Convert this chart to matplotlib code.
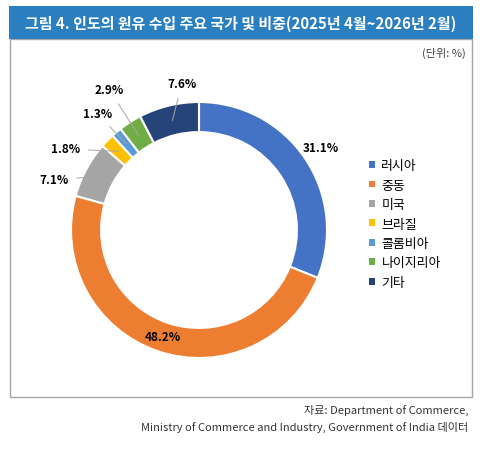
import matplotlib.pyplot as plt
from matplotlib.patches import Rectangle, Patch
import numpy as np

plt.rcParams['font.family'] = ['Noto Sans CJK KR', 'DejaVu Sans']

# data
countries = ['러시아', '중동', '미국', '브라질', '콜롬비아', '나이지리아', '기타']
shares = [31.1, 48.2, 7.1, 1.8, 1.3, 2.9, 7.6]
colors = ['#4472C4', '#ED7D31', '#A5A5A5', '#FFC000', '#5B9BD5', '#70AD47', '#264478']

# label placement (angle offset in degrees, radius), leader line or not
label_pos = [(0, 1.15, False), (0, 0.88, False), (9, 1.20, True), (13, 1.22, True),
             (1, 1.21, True), (0, 1.30, True), (-7, 1.15, True)]

W, H = 484, 452
fig = plt.figure(figsize=(W / 100, H / 100), dpi=100)

# frame + title bar
fig.patches.append(Rectangle((10 / W, (H - 398) / H), 462 / W, 358 / H,
                             transform=fig.transFigure, fill=False,
                             edgecolor='#a6a6a6', lw=1))
fig.patches.append(Rectangle((9 / W, (H - 40) / H), 464 / W, 33 / H,
                             transform=fig.transFigure, facecolor='#2a7fc1',
                             edgecolor='none'))
fig.text(241 / W, (H - 24) / H,
         '그림 4. 인도의 원유 수입 주요 국가 및 비중(2025년 4월~2026년 2월)',
         color='white', fontsize=10.8, fontweight='bold', ha='center', va='center')
fig.text(466 / W, (H - 53) / H, '(단위: %)', fontsize=8, color='#404040',
         ha='right', va='center')
fig.text(468 / W, (H - 410) / H, '자료: Department of Commerce,',
         fontsize=8, color='#333333', ha='right', va='center')
fig.text(468 / W, (H - 427) / H,
         'Ministry of Commerce and Industry, Government of India 데이터',
         fontsize=8, color='#333333', ha='right', va='center')

# donut
cx, cy, r = 199, 231, 128
ax = fig.add_axes([(cx - r) / W, (H - cy - r) / H, 2 * r / W, 2 * r / H])
wedges, _ = ax.pie(shares, colors=colors, startangle=90, counterclock=False,
                   radius=1, wedgeprops=dict(width=0.235, edgecolor='white', linewidth=1.5))
ax.set_xlim(-1, 1)
ax.set_ylim(-1, 1)
ax.set_aspect('equal')
ax.axis('off')

for w, v, (da, rr, line) in zip(wedges, shares, label_pos):
    mid = (w.theta1 + w.theta2) / 2
    a = np.deg2rad(mid + da)
    tx, ty = rr * np.cos(a), rr * np.sin(a)
    am = np.deg2rad(mid)
    if line:
        ax.annotate(f'{v}%', xy=(0.88 * np.cos(am), 0.88 * np.sin(am)), xytext=(tx, ty),
                    fontsize=8.5, fontweight='bold', ha='center', va='center',
                    annotation_clip=False,
                    arrowprops=dict(arrowstyle='-', color='#a6a6a6', lw=0.7,
                                    shrinkA=4, shrinkB=0))
    else:
        ax.text(tx, ty, f'{v}%', fontsize=8.5, fontweight='bold',
                ha='center', va='center')

handles = [Patch(facecolor=c, edgecolor='none') for c in colors]
fig.legend(handles, countries, loc='upper left',
           bbox_to_anchor=(364 / W, (H - 155) / H), frameon=False,
           fontsize=9.3, handlelength=0.45, handleheight=0.45, handletextpad=0.5,
           labelspacing=0.5, borderaxespad=0)

fig.savefig('out.png', dpi=100)
